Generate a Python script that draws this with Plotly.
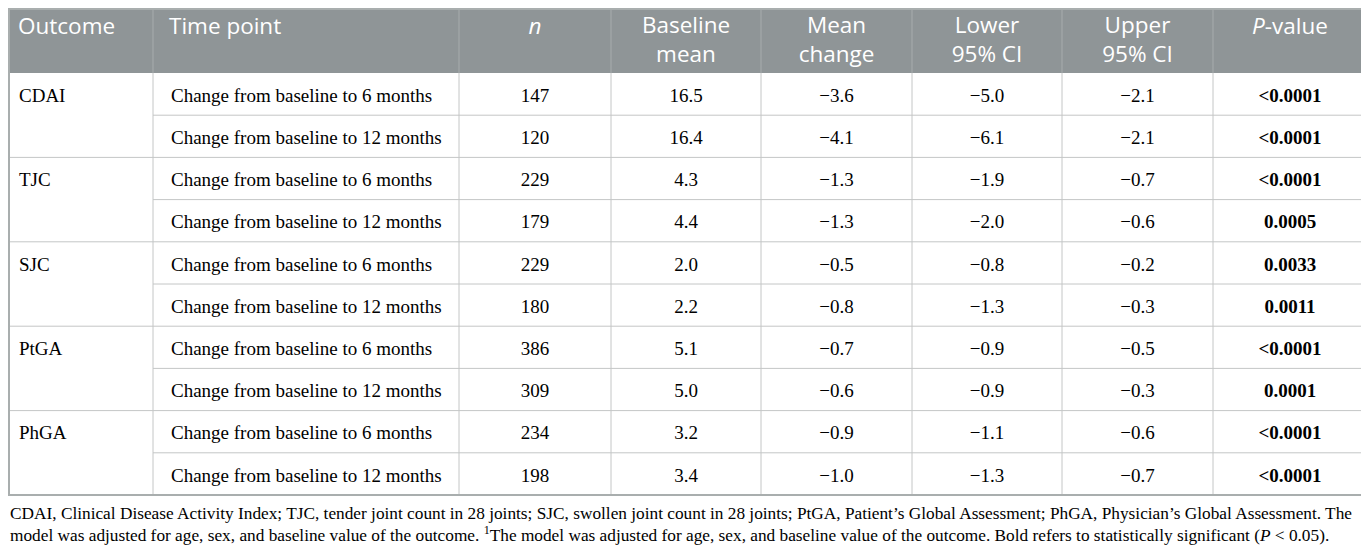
import plotly.graph_objects as go

# Table contents
outcomes = ["CDAI", "TJC", "SJC", "PtGA", "PhGA"]
time_points = ["Change from baseline to 6 months", "Change from baseline to 12 months"]
n_values = [147, 120, 229, 179, 229, 180, 386, 309, 234, 198]
baseline_mean = [16.5, 16.4, 4.3, 4.4, 2.0, 2.2, 5.1, 5.0, 3.2, 3.4]
mean_change = [-3.6, -4.1, -1.3, -1.3, -0.5, -0.8, -0.7, -0.6, -0.9, -1.0]
lower_ci = [-5.0, -6.1, -1.9, -2.0, -0.8, -1.3, -0.9, -0.9, -1.1, -1.3]
upper_ci = [-2.1, -2.1, -0.7, -0.6, -0.2, -0.3, -0.5, -0.3, -0.6, -0.7]
p_values = ["<0.0001", "<0.0001", "<0.0001", "0.0005", "0.0033",
            "0.0011", "<0.0001", "0.0001", "<0.0001", "<0.0001"]

headers = ["Outcome", "Time point", "<i>n</i>", "Baseline<br>mean", "Mean<br>change",
           "Lower<br>95% CI", "Upper<br>95% CI", "<i>P</i>-value"]

footnote = ("CDAI, Clinical Disease Activity Index; TJC, tender joint count in 28 joints; "
            "SJC, swollen joint count in 28 joints; PtGA, Patient\u2019s Global Assessment; "
            "PhGA, Physician\u2019s Global Assessment. The<br>"
            "model was adjusted for age, sex, and baseline value of the outcome. "
            "<sup>1</sup>The model was adjusted for age, sex, and baseline value of the outcome. "
            "Bold refers to statistically significant (<i>P</i> &lt; 0.05).")

# page geometry (the html body adds an 8px margin, so axes are in page pixels)
W, H, M = 1369, 551, 8
col_edges = [2, 153, 459, 611, 761, 912, 1062, 1213, 1367]
header_bottom = 73
row_h = 42.2
n_rows = len(n_values)
table_bottom = header_bottom + row_h * n_rows

header_fill = "#8f9597"
header_sep = "#a7acad"
grid = "#c4c6c6"
frame = "#a9aeae"


def fmt(v):
    return f"{v:.1f}".replace("-", "\u2212")


row_y = [header_bottom + row_h * (i + 0.5) + 3 for i in range(n_rows)]
centers = [(a + b) / 2 for a, b in zip(col_edges[:-1], col_edges[1:])]

value_cols = [
    [str(v) for v in n_values],
    [fmt(v) for v in baseline_mean],
    [fmt(v) for v in mean_change],
    [fmt(v) for v in lower_ci],
    [fmt(v) for v in upper_ci],
    ["<b>" + p.replace("<", "&lt;") + "</b>" for p in p_values],
]

body_font = dict(family="Liberation Serif", size=19, color="black")
head_font = dict(family="Open Sans", size=22.5, color="white")


def text_trace(xs, ys, texts, pos, font):
    return go.Scatter(x=xs, y=ys, text=texts, mode="text", textposition=pos,
                      textfont=font, hoverinfo="skip", cliponaxis=False)


fig = go.Figure()

# outcome labels (one per pair of rows)
fig.add_trace(text_trace([col_edges[0] + 17] * len(outcomes), row_y[::2], outcomes,
                         "middle right", body_font))

# time point labels
fig.add_trace(text_trace([col_edges[1] + 18] * n_rows, row_y, time_points * len(outcomes),
                         "middle right", body_font))

# numeric columns
for k, col in enumerate(value_cols):
    fig.add_trace(text_trace([centers[k + 2]] * n_rows, row_y, col, "middle center", body_font))

# header text
for k, h in enumerate(headers):
    left = k < 2
    x = col_edges[k] + 16 if left else centers[k]
    pos = "middle right" if left else "middle center"
    y = 42 if "<br>" in h else 28
    fig.add_trace(text_trace([x], [y], [h], pos, head_font))

# header background and separators
fig.add_shape(type="rect", x0=col_edges[0], x1=col_edges[-1], y0=0, y1=header_bottom,
              fillcolor=header_fill, line_width=0, layer="below")
for e in col_edges[1:-1]:
    fig.add_shape(type="line", x0=e, x1=e, y0=0, y1=header_bottom,
                  line=dict(color=header_sep, width=1))
    fig.add_shape(type="line", x0=e, x1=e, y0=header_bottom, y1=table_bottom,
                  line=dict(color=grid, width=1))

# row separators (outcome cell spans two rows)
for i in range(1, n_rows):
    y = header_bottom + row_h * i
    x0 = col_edges[0] if i % 2 == 0 else col_edges[1]
    fig.add_shape(type="line", x0=x0, x1=col_edges[-1], y0=y, y1=y,
                  line=dict(color=grid, width=1))

# outer frame
fig.add_shape(type="rect", x0=M + 1, x1=col_edges[-1], y0=M + 1, y1=table_bottom,
              line=dict(color=frame, width=2))

# footnote
fig.add_annotation(text=footnote, x=M, y=524, xanchor="left", yanchor="middle",
                   align="left", showarrow=False,
                   font=dict(family="Liberation Serif", size=17.3, color="black"))

fig.update_xaxes(range=[M, W], visible=False, fixedrange=True)
fig.update_yaxes(range=[H, M], visible=False, fixedrange=True)
fig.update_layout(
    width=W - M, height=H - M,
    margin=dict(l=0, r=0, t=0, b=0),
    paper_bgcolor="white", plot_bgcolor="white",
    showlegend=False,
)

fig.write_html("out.html")
